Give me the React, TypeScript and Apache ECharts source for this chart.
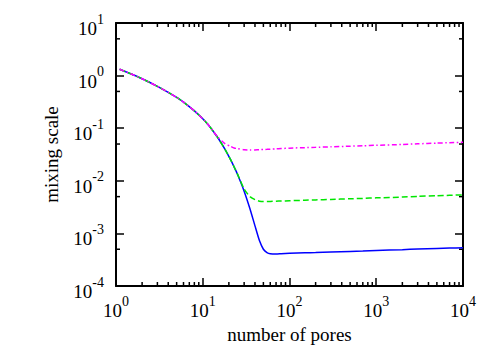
import React, { useEffect, useRef } from "react";
import * as echarts from "echarts";

// number of pores (x) sampled along the curves
const xPores = [1.1, 1.5, 2, 3, 4, 5, 6, 8, 10, 12, 15, 18, 21, 23, 25, 30, 35, 40, 45, 50, 55, 60, 70, 80, 100, 150, 200, 300, 500, 700, 1000, 2000, 3000, 5000, 7000, 10000];

// mixing scale, blue solid curve
const blueScale = [1.32, 1.07, 0.87, 0.625, 0.48, 0.384, 0.313, 0.214, 0.151, 0.108, 0.065, 0.04, 0.0249, 0.0183, 0.0136, 0.00635, 0.00294, 0.00139, 0.00073, 0.0005, 0.000432, 0.00041, 0.000405, 0.00041, 0.000418, 0.000427, 0.000433, 0.000443, 0.000455, 0.000463, 0.000474, 0.00049, 0.000505, 0.000518, 0.000526, 0.000535];

// mixing scale, green dashed curve
const greenScale = [1.32, 1.07, 0.87, 0.625, 0.48, 0.384, 0.313, 0.214, 0.151, 0.108, 0.065, 0.04, 0.0249, 0.0183, 0.0137, 0.007, 0.005, 0.0044, 0.0041, 0.00403, 0.00403, 0.00406, 0.0041, 0.00412, 0.00418, 0.00427, 0.00433, 0.00443, 0.00455, 0.00463, 0.00474, 0.0049, 0.00505, 0.0052, 0.0053, 0.0054];

// mixing scale, magenta dash-dot curve
const magentaScale = [1.32, 1.07, 0.87, 0.625, 0.48, 0.384, 0.313, 0.214, 0.151, 0.108, 0.067, 0.051, 0.045, 0.042, 0.041, 0.039, 0.0386, 0.0387, 0.039, 0.0393, 0.0396, 0.04, 0.0405, 0.041, 0.0418, 0.0427, 0.0433, 0.0443, 0.0455, 0.0463, 0.0474, 0.049, 0.0505, 0.052, 0.053, 0.054];

// minor tick positions
const xMinorTicks = [2, 3, 4, 5, 6, 7, 8, 9, 20, 30, 40, 50, 60, 70, 80, 90, 200, 300, 400, 500, 600, 700, 800, 900, 2000, 3000, 4000, 5000, 6000, 7000, 8000, 9000];
const yMinorTicks = [0.0005, 0.005, 0.05, 0.5, 5];

const FONT = "Liberation Serif";

const rich = {
  base: { fontFamily: FONT, fontSize: 19, lineHeight: 26, color: "#000", verticalAlign: "bottom" },
  sup: { fontFamily: FONT, fontSize: 14, lineHeight: 14, color: "#000", verticalAlign: "top" },
};

const powLabel = (v: number) => `{base|10}{sup|${Math.round(Math.log10(v))}}`;

export default function App() {
  const ref = useRef<HTMLDivElement>(null);
  useEffect(() => {
    const chart = echarts.init(ref.current!, null, { renderer: "svg" });
    const lineSt = { color: "#000", width: 2 };
    const tickSt = { color: "#000", width: 1.5 };
    const mkSeries = (ys: number[], color: string, type: any) => ({
      type: "line",
      xAxisIndex: 0,
      yAxisIndex: 0,
      data: xPores.map((x, i) => [x, ys[i]]),
      symbol: "none",
      showSymbol: false,
      smooth: 0.2,
      lineStyle: { color, width: 1.5, type },
      silent: true,
    });
    const labelBase = { fontFamily: FONT, fontSize: 19, color: "#000", rich, padding: [4, 0, 0, 0] };
    chart.setOption({
      animation: false,
      textStyle: { fontFamily: FONT },
      grid: { left: 116, right: 35, top: 23, bottom: 62, containLabel: false },
      xAxis: [
        {
          type: "log", logBase: 10, min: 1, max: 10000, splitNumber: 4, position: "bottom",
          axisLine: { show: true, lineStyle: lineSt },
          axisTick: { show: true, inside: true, length: 8, lineStyle: tickSt },
          axisLabel: { ...labelBase, formatter: powLabel, margin: 4 },
          splitLine: { show: false },
          name: "number of pores", nameLocation: "middle", nameGap: 39,
          nameTextStyle: { fontFamily: FONT, fontSize: 19, color: "#000" },
        },
        {
          type: "log", logBase: 10, min: 1, max: 10000, splitNumber: 4, position: "top",
          axisLine: { show: true, lineStyle: lineSt },
          axisTick: { show: true, inside: true, length: 8, lineStyle: tickSt },
          axisLabel: { show: false },
          splitLine: { show: false },
        },
      ],
      yAxis: [
        {
          type: "log", logBase: 10, min: 0.0001, max: 10, splitNumber: 5, position: "left",
          axisLine: { show: true, lineStyle: lineSt },
          axisTick: { show: true, inside: true, length: 8, lineStyle: tickSt },
          axisLabel: { ...labelBase, formatter: powLabel, margin: 12 },
          splitLine: { show: false },
          name: "mixing scale", nameLocation: "middle", nameGap: 55,
          nameTextStyle: { fontFamily: FONT, fontSize: 19, color: "#000" },
        },
        {
          type: "log", logBase: 10, min: 0.0001, max: 10, splitNumber: 5, position: "right",
          axisLine: { show: true, lineStyle: lineSt },
          axisTick: { show: true, inside: true, length: 8, lineStyle: tickSt },
          axisLabel: { show: false },
          splitLine: { show: false },
        },
      ],
      series: [
        mkSeries(blueScale, "#0000ff", "solid"),
        mkSeries(greenScale, "#00e600", [6, 3]),
        mkSeries(magentaScale, "#ff00ff", [5, 2.5, 1.5, 2.5]),
        {
          type: "custom",
          xAxisIndex: 0,
          yAxisIndex: 0,
          silent: true,
          clip: false,
          data: xMinorTicks.map((v) => [v, 1]),
          encode: { x: 0, y: 1 },
          renderItem: (params: any, api: any) => {
            const p = api.coord([api.value(0), 1]);
            const cs = params.coordSys;
            const yb = cs.y + cs.height;
            const yt = cs.y;
            return {
              type: "group",
              children: [
                { type: "line", shape: { x1: p[0], y1: yb, x2: p[0], y2: yb - 4 }, style: { stroke: "#000", lineWidth: 1.5 } },
                { type: "line", shape: { x1: p[0], y1: yt, x2: p[0], y2: yt + 4 }, style: { stroke: "#000", lineWidth: 1.5 } },
              ],
            };
          },
        },
        {
          type: "custom",
          xAxisIndex: 0,
          yAxisIndex: 0,
          silent: true,
          clip: false,
          data: yMinorTicks.map((v) => [10, v]),
          encode: { x: 0, y: 1 },
          renderItem: (params: any, api: any) => {
            const p = api.coord([10, api.value(1)]);
            const cs = params.coordSys;
            const xl = cs.x;
            const xr = cs.x + cs.width;
            return {
              type: "group",
              children: [
                { type: "line", shape: { x1: xl, y1: p[1], x2: xl + 4, y2: p[1] }, style: { stroke: "#000", lineWidth: 1.5 } },
                { type: "line", shape: { x1: xr, y1: p[1], x2: xr - 4, y2: p[1] }, style: { stroke: "#000", lineWidth: 1.5 } },
              ],
            };
          },
        },
      ],
    });
    return () => chart.dispose();
  }, []);
  return <div ref={ref} style={{ position: "absolute", left: 0, top: 0, width: 498, height: 349 }} />;
}
